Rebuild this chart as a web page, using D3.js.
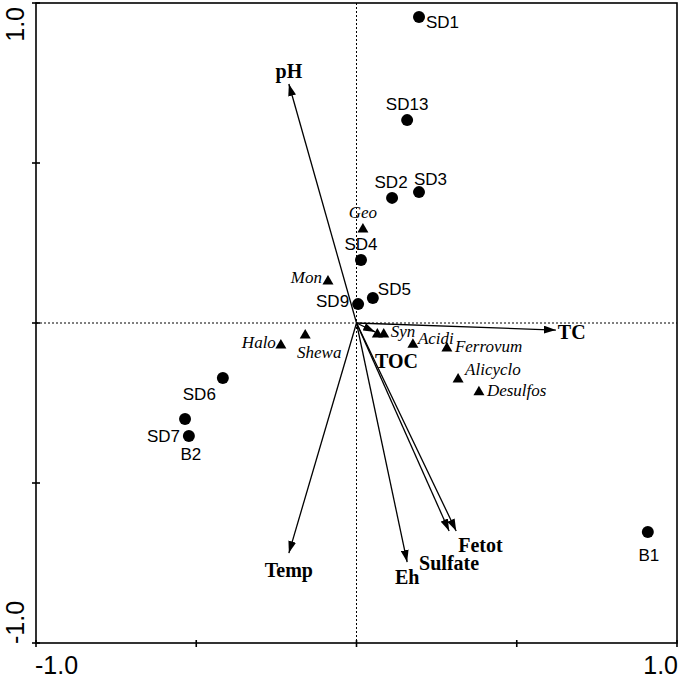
<!DOCTYPE html>
<html><head><meta charset="utf-8">
<script src="https://cdn.jsdelivr.net/npm/d3@7"></script>
<style>body{margin:0;background:#fff}</style>
</head><body>
<svg id="c" width="680" height="679"></svg>
<script>
// --- data ---
const sampleNames = ["SD1","SD13","SD2","SD3","SD4","SD5","SD9","SD6","SD7","B2","B1"];
const sampleX = [0.195,0.158,0.111,0.195,0.014,0.051,0.005,-0.417,-0.535,-0.523,0.909];
const sampleY = [0.956,0.634,0.391,0.409,0.197,0.078,0.059,-0.172,-0.300,-0.353,-0.653];

const speciesNames = ["Geo","Mon","Halo","Shewa","Syn","","Acidi","Ferrovum","Alicyclo","Desulfos"];
const speciesX = [0.020,-0.089,-0.236,-0.160,0.085,0.065,0.176,0.282,0.317,0.382];
const speciesY = [0.297,0.134,-0.066,-0.034,-0.031,-0.031,-0.063,-0.075,-0.172,-0.212];

const envNames = ["pH","TC","TOC","Temp","Eh","Sulfate","Fetot"];
const envX = [-0.211,0.622,0.058,-0.211,0.158,0.289,0.311];
const envY = [0.747,-0.022,-0.028,-0.719,-0.747,-0.650,-0.650];

const xTicks = [-1,-0.5,0,0.5,1];
const yTicks = [-1,-0.5,0,0.5,1];
const tickLabels = ["-1.0","1.0"];

// --- label layout (offsets in px from mark) ---
const sampleLabelOff = {
  "SD1":[7,11,"start"],"SD13":[0,-10,"middle"],"SD2":[-1,-10,"middle"],"SD3":[-5,-7,"start"],
  "SD4":[0,-10,"middle"],"SD5":[5,-3,"start"],"SD9":[-9,3,"end"],"SD6":[-7,22,"end"],
  "SD7":[-5,23,"end"],"B2":[2,24,"middle"],"B1":[1,29,"middle"]
};
const speciesLabelOff = {
  "Geo":[0,-10,"middle"],"Mon":[-6,3,"end"],"Halo":[-5,4,"end"],"Shewa":[14,24,"middle"],
  "Syn":[7,4,"start"],"Acidi":[5,1,"start"],"Ferrovum":[8,5,"start"],"Alicyclo":[7,-3,"start"],
  "Desulfos":[8,5,"start"]
};
const envLabelOff = {
  "pH":[0,-6,"middle"],"TC":[2,9,"start"],"TOC":[0,36,"start"],"Temp":[0,24,"middle"],
  "Eh":[0,22,"middle"],"Sulfate":[-30,39,"start"],"Fetot":[2,21,"start"]
};

const svg = d3.select("#c");
const L=36,R=677,T=3,B=643;
const x = d3.scaleLinear().domain([-1,1]).range([L,R]);
const y = d3.scaleLinear().domain([-1,1]).range([B,T]);

// arrow marker
svg.append("defs").append("marker")
  .attr("id","ah").attr("viewBox","0 0 12 8").attr("refX",12).attr("refY",4)
  .attr("markerWidth",12).attr("markerHeight",8).attr("markerUnits","userSpaceOnUse")
  .attr("orient","auto")
  .append("path").attr("d","M0,0 L12,4 L0,8 Z").attr("fill","#000");

// dotted zero lines
svg.append("line").attr("x1",x(0)).attr("x2",x(0)).attr("y1",T).attr("y2",B)
  .attr("stroke","#000").attr("stroke-width",1).attr("stroke-dasharray","2,2");
svg.append("line").attr("x1",L).attr("x2",R).attr("y1",y(0)).attr("y2",y(0))
  .attr("stroke","#000").attr("stroke-width",1).attr("stroke-dasharray","2,2");

// frame
svg.append("rect").attr("x",L).attr("y",T).attr("width",R-L).attr("height",B-T)
  .attr("fill","none").attr("stroke","#000").attr("stroke-width",1.6);

// ticks
const tg = svg.append("g");
xTicks.forEach(t=>{
  tg.append("line").attr("x1",x(t)).attr("x2",x(t)).attr("y1",B-3).attr("y2",B+4)
    .attr("stroke","#000").attr("stroke-width",1.6);
});
yTicks.forEach(t=>{
  tg.append("line").attr("x1",L-4).attr("x2",L+4).attr("y1",y(t)).attr("y2",y(t))
    .attr("stroke","#000").attr("stroke-width",1.6);
});
const tf = "Liberation Sans, Arial, sans-serif";
svg.append("text").attr("x",x(-1)-1).attr("y",674).attr("font-family",tf).attr("font-size",25)
  .attr("text-anchor","start").text(tickLabels[0]);
svg.append("text").attr("x",x(1)+1).attr("y",674).attr("font-family",tf).attr("font-size",25)
  .attr("text-anchor","end").text(tickLabels[1]);
svg.append("text").attr("transform",`translate(24,${y(-1)+1}) rotate(-90)`)
  .attr("font-family",tf).attr("font-size",25).attr("text-anchor","start").text(tickLabels[0]);
svg.append("text").attr("transform",`translate(24,${y(1)+4}) rotate(-90)`)
  .attr("font-family",tf).attr("font-size",25).attr("text-anchor","end").text(tickLabels[1]);

// env arrows
const env = envNames.map((n,i)=>({n,x:envX[i],y:envY[i]}));
svg.append("g").selectAll("line").data(env).join("line")
  .attr("x1",x(0)).attr("y1",y(0)).attr("x2",d=>x(d.x)).attr("y2",d=>y(d.y))
  .attr("stroke","#000").attr("stroke-width",1.3).attr("marker-end","url(#ah)");
svg.append("g").selectAll("text").data(env).join("text")
  .attr("x",d=>x(d.x)+envLabelOff[d.n][0]).attr("y",d=>y(d.y)+envLabelOff[d.n][1])
  .attr("text-anchor",d=>envLabelOff[d.n][2])
  .attr("font-family","Liberation Serif, Times New Roman, serif").attr("font-weight","bold")
  .attr("font-size",20).text(d=>d.n);

// species triangles
const sp = speciesNames.map((n,i)=>({n,x:speciesX[i],y:speciesY[i]}));
svg.append("g").selectAll("path").data(sp).join("path")
  .attr("transform",d=>`translate(${x(d.x)},${y(d.y)})`)
  .attr("d","M0,-5 L5.5,4.5 L-5.5,4.5 Z").attr("fill","#000");
svg.append("g").selectAll("text").data(sp.filter(d=>d.n)).join("text")
  .attr("x",d=>x(d.x)+speciesLabelOff[d.n][0]).attr("y",d=>y(d.y)+speciesLabelOff[d.n][1])
  .attr("text-anchor",d=>speciesLabelOff[d.n][2])
  .attr("font-family","Liberation Serif, Times New Roman, serif").attr("font-style","italic")
  .attr("font-size",17).text(d=>d.n);

// samples
const sm = sampleNames.map((n,i)=>({n,x:sampleX[i],y:sampleY[i]}));
svg.append("g").selectAll("circle").data(sm).join("circle")
  .attr("cx",d=>x(d.x)).attr("cy",d=>y(d.y)).attr("r",6).attr("fill","#000");
svg.append("g").selectAll("text").data(sm).join("text")
  .attr("x",d=>x(d.x)+sampleLabelOff[d.n][0]).attr("y",d=>y(d.y)+sampleLabelOff[d.n][1])
  .attr("text-anchor",d=>sampleLabelOff[d.n][2])
  .attr("font-family",tf).attr("font-size",17).text(d=>d.n);
</script>
</body></html>
